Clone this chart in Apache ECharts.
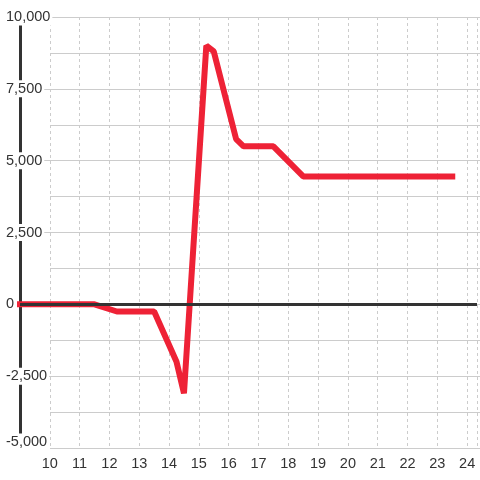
<!DOCTYPE html>
<html>
<head>
<meta charset="utf-8">
<script src="https://cdn.jsdelivr.net/npm/echarts@6/dist/echarts.min.js"></script>
<style>
  html, body { margin: 0; padding: 0; background: #fff; }
  #chart { width: 480px; height: 480px; }
</style>
</head>
<body>
<div id="chart"></div>
<script>
// hour of day and value
const hours = [9, 11.5, 12.25, 13.5, 14.25, 14.5, 15.25, 15.5, 16.25, 16.5, 17.5, 18.5, 23.5]
const values = [0, 0, -250, -250, -2000, -3100, 9000, 8800, 5750, 5500, 5500, 4450, 4450]
const xTicks = [10, 11, 12, 13, 14, 15, 16, 17, 18, 19, 20, 21, 22, 23, 24]
const yTicks = [-5000, -2500, 0, 2500, 5000, 7500, 10000]

const xMin = 9, xMax = 24.33
const yMin = yTicks[0], yMax = yTicks[yTicks.length - 1]

let points = hours.map((h, i) => [h, values[i]])

let chart = echarts.init(document.getElementById('chart'))
let fontFamily = '"Liberation Sans", Arial, sans-serif'

let options = {
  animation: false,
  grid: [
    { left: 20, right: 0, top: 17, bottom: 32 },
    // minor lines start at the first labelled hour
    { left: 50, right: 0, top: 17, bottom: 32 }
  ],
  xAxis: [
    {
      type: 'value',
      gridIndex: 0,
      min: xMin,
      max: xMax,
      interval: 1,
      axisLine: { show: false },
      axisTick: { show: false },
      axisLabel: {
        margin: 8,
        color: '#333',
        fontSize: 14.5,
        fontFamily: fontFamily,
        formatter: v => xTicks.indexOf(v) >= 0 ? String(v) : ''
      },
      splitLine: {
        show: true,
        lineStyle: { color: '#ccc', width: 1, type: [3, 3] }
      }
    },
    {
      type: 'value',
      gridIndex: 1,
      min: 10,
      max: xMax,
      show: true,
      axisLine: { show: false },
      axisTick: { show: false },
      axisLabel: { show: false },
      splitLine: { show: false }
    }
  ],
  yAxis: [
    {
      type: 'value',
      gridIndex: 0,
      min: yMin,
      max: yMax,
      interval: 2500,
      axisLine: { show: true, lineStyle: { color: '#333', width: 3 } },
      axisTick: { show: false },
      axisLabel: {
        align: 'left',
        margin: 16,
        color: '#333',
        fontSize: 14.5,
        fontFamily: fontFamily,
        backgroundColor: '#fff',
        padding: [1, 2],
        // lowest label sits a little above its line
        formatter: v => v === yMin ? '{low|' + v.toLocaleString('en-US') + '}' : v.toLocaleString('en-US'),
        rich: {
          low: {
            color: '#333',
            fontSize: 14.5,
            fontFamily: fontFamily,
            padding: [0, 0, 12, 0]
          }
        }
      },
      splitLine: {
        show: true,
        showMinLine: false,
        lineStyle: { color: '#ccc', width: 1 }
      }
    },
    {
      type: 'value',
      gridIndex: 1,
      min: yMin,
      max: yMax,
      interval: 1250,
      axisLine: { show: false },
      axisTick: { show: false },
      axisLabel: { show: false },
      splitLine: {
        show: true,
        lineStyle: { color: '#ccc', width: 1 }
      }
    }
  ],
  series: [
    {
      // zero line, under the data line
      type: 'line',
      xAxisIndex: 0,
      yAxisIndex: 0,
      data: [],
      z: 1,
      markLine: {
        silent: true,
        symbol: ['none', 'none'],
        label: { show: false },
        lineStyle: { color: '#333', width: 3, type: 'solid' },
        data: [{ yAxis: 0 }]
      }
    },
    {
      type: 'line',
      xAxisIndex: 0,
      yAxisIndex: 0,
      z: 3,
      data: points,
      showSymbol: false,
      lineStyle: { color: '#ee2236', width: 6, cap: 'square', join: 'bevel' }
    }
  ]
}

chart.setOption(options)
</script>
</body>
</html>
